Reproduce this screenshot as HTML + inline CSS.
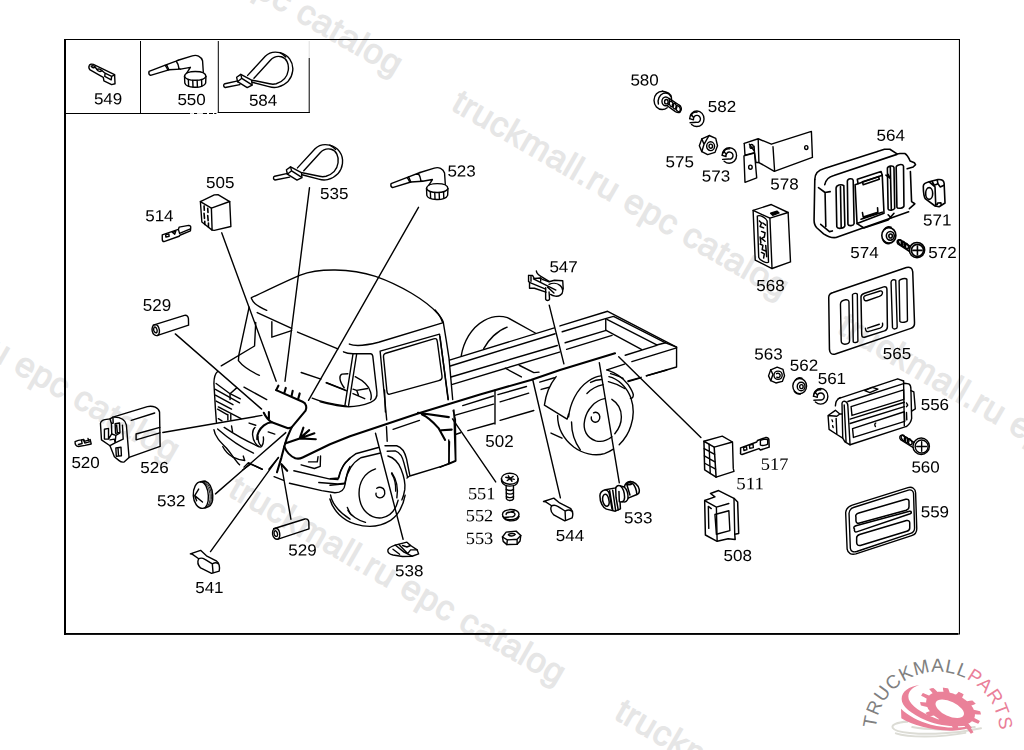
<!DOCTYPE html>
<html><head><meta charset="utf-8"><title>502 wiring harness</title>
<style>
html,body{margin:0;padding:0;background:#fff;}
body{width:1024px;height:750px;overflow:hidden;font-family:"Liberation Sans",sans-serif;}
svg{display:block;position:absolute;left:0;top:0;}
.wm{font-family:"Liberation Sans",sans-serif;font-size:34.5px;letter-spacing:0.73px;fill:#e6e6e6;stroke:#e6e6e6;stroke-width:1.1px;text-rendering:geometricPrecision;}
.lb{font-family:"Liberation Sans",sans-serif;font-size:16px;fill:#000;}
.ls{font-family:"Liberation Serif",serif;font-size:17.3px;fill:#000;}
.lb,.ls{filter:grayscale(1);}
.t{fill:none;stroke:#000;stroke-width:1.4;stroke-linecap:round;stroke-linejoin:round;}
.h{fill:none;stroke:#000;stroke-width:2.1;stroke-linecap:round;stroke-linejoin:round;}
.z path,.z line,.z polyline,.z ellipse,.z circle,.z rect,.z polygon{vector-effect:non-scaling-stroke;}
.w{fill:#fff;}
</style></head><body>
<svg width="1024" height="750" viewBox="0 0 1024 750">
<!-- 00_watermark.svgfrag -->
<g class="wm">
<text transform="translate(450.1,109.1) rotate(30)">truckmall.ru epc catalog</text>
<text transform="translate(836.1,332.1) rotate(30)">truckmall.ru epc catalog</text>
<text transform="translate(227.1,495.1) rotate(30)">truckmall.ru epc catalog</text>
<text transform="translate(64.1,-113.9) rotate(30)">truckmall.ru epc catalog</text>
<text transform="translate(-158.9,272.1) rotate(30)">truckmall.ru epc catalog</text>
<text transform="translate(613.1,718.1) rotate(30)">truckmall.ru epc catalog</text>
</g>

<!-- 10_frame.svgfrag -->
<g fill="#000" stroke="none">
<rect x="64" y="39" width="2" height="596"/>
<rect x="64" y="39" width="896" height="1"/>
<rect x="958.9" y="39" width="1.1" height="595.5"/>
<rect x="64" y="633" width="894.6" height="1.9"/>
<rect x="64" y="113" width="126" height="1"/>
<rect x="194" y="113" width="3.2" height="1"/><rect x="202.8" y="113" width="4.2" height="1"/><rect x="209" y="113" width="4" height="1"/><rect x="214.2" y="113" width="2.2" height="1"/>
<rect x="217.8" y="112" width="92" height="1"/>
<rect x="140" y="41" width="1" height="72"/>
<rect x="217.8" y="41" width="1" height="72"/>
<rect x="308.7" y="58" width="1" height="55"/>
</g>
<rect x="308.7" y="41" width="1" height="17" fill="#ddd"/>
<rect x="190" y="113" width="3.4" height="1" fill="#ddd"/><rect x="197.5" y="113" width="4.7" height="1" fill="#ddd"/>

<!-- 30_truck_a.svgfrag -->
<!-- roof: zoom [200,250] f=3.988 -->
<g class="t z" transform="translate(200 250) scale(0.25075)">
<path d="M205,190 C270,160 340,125 400,100 C470,72 600,72 700,105 C800,140 900,200 950,255 C960,268 965,280 968,290"/>
</g>
<!-- G1: zoom [200,280] f=6.82 -->
<g class="t z" transform="translate(200 280) scale(0.146628)">
<path d="M350,125 C360,150 375,170 455,207"/>
<path d="M390,222 L625,330 M665,355 L940,470"/>
<path d="M490,285 L490,390 L625,345"/>
<path d="M335,185 L265,510 L262,550 C300,600 350,625 405,650"/>
<path d="M380,290 L372,450 L145,585"/>
</g>
<!-- G2: zoom [200,360] f=6.82 -->
<g class="t z" transform="translate(200 360) scale(0.146628)">
<path d="M120,78 C100,95 95,120 95,160 L105,330 L112,425"/>
<path d="M110,160 L205,230 L275,265 M105,200 L270,292 M105,240 L225,305 M110,280 L215,335 M125,320 L280,400"/>
<path d="M205,230 L205,270 M205,230 L250,190"/>
<path d="M120,335 L185,372 M190,372 L190,410 M210,372 L210,410 M125,400 L150,415"/>
<path d="M300,185 L455,270"/>
<path d="M690,85 L825,130 M860,155 L1000,210"/>
<path d="M765,260 C800,275 880,298 1000,315"/>
<path d="M95,475 C100,520 140,560 180,600 C215,640 240,685 270,715"/>
<path d="M120,470 C200,540 290,600 365,635"/>
<path d="M165,460 C240,510 330,560 400,590"/>
<path d="M155,590 C170,620 195,645 220,660 C250,675 280,682 305,685 L295,655"/>
<path d="M215,450 L222,490"/>
<path d="M375,460 C350,480 355,540 380,570 C395,590 410,600 420,590 C432,575 435,550 432,525"/>
<path d="M395,520 C395,550 405,575 415,585"/>
<path d="M335,430 L380,445 M465,490 L510,505"/>
<path d="M290,750 L345,710 L425,745 M470,745 L535,665"/>
<path d="M740,695 L800,695 L805,660 M690,715 L780,740 L820,725 L822,655"/>
</g>
<!-- G3: zoom [200,440] f=6.82 -->
<g class="t z" transform="translate(200 440) scale(0.146628)">
<path d="M640,210 L880,265 L940,270 C950,225 975,160 1023,125"/>
<path d="M610,295 L830,345 L920,360 C960,360 985,340 990,300 C995,260 1005,215 1023,180"/>
<path d="M810,290 L940,300 L985,295"/>
<path d="M505,250 L570,275"/>
<path d="M330,155 L425,200 M330,155 L300,185"/>
<path d="M890,375 C900,430 930,480 1023,540"/>
<path d="M1005,460 L1023,500"/>
</g>

<!-- 31_truck_b.svgfrag -->
<!-- G4: zoom [320,310] f=6.82 cab side -->
<g class="t z" transform="translate(320 310) scale(0.146628)">
<path d="M200,232 C230,245 300,245 400,220 L830,90"/>
<path d="M785,0 C810,30 830,55 840,80 L860,200 L880,330 L905,610"/>
<path d="M455,750 L410,280 L815,165 L875,610"/>
<path d="M470,575 C455,575 458,560 455,540 L433,320 C432,300 440,298 455,293 L775,197 C795,192 797,200 800,215 L832,450 C835,470 825,478 810,482 Z"/>
<path d="M225,300 L170,650 M250,300 L195,650"/>
<path d="M160,285 C180,295 200,298 225,298 L345,298 C355,298 358,305 360,315 L388,560 C392,590 380,615 345,630 C280,655 200,665 140,655 C90,648 40,635 0,625"/>
<path d="M190,435 L150,437 C130,445 128,480 165,530"/>
<path d="M240,455 C290,480 335,520 345,560 C350,580 352,600 345,612"/>
<path d="M45,495 L170,545 M225,540 L250,548 L325,535 M225,570 L305,605 M250,548 L262,580"/>
</g>
<!-- G5: zoom [330,390] f=6.82 door bottom / front wheel arch -->
<g class="t z" transform="translate(330 390) scale(0.146628)">
<path d="M372,0 L378,150 M385,250 L390,350"/>
<path d="M430,268 L610,207"/>
<path d="M810,340 L812,500 M840,140 L855,200 L858,485 M550,585 L810,505 L858,485"/>
<path d="M0,605 L60,600 C70,540 100,480 175,435 L330,392"/>
<path d="M0,650 L100,640 C115,560 145,500 210,462 L345,430"/>
<path d="M375,380 L455,380 C490,390 510,420 522,470 L545,585 L525,600"/>
<path d="M390,418 L445,415 C475,425 495,455 505,500 L528,590"/>
<path d="M395,450 C430,460 465,490 485,540 C505,590 515,640 510,680 C505,710 500,730 490,750"/>
<path d="M420,570 C440,600 450,640 448,690"/>
</g>
<!-- G10: front wheel zoom [200,400] f=3.988 -->
<g class="t z" transform="translate(200 400) scale(0.25075)">
<path d="M518,395 C530,440 570,480 620,495 C670,510 720,505 760,480 C790,460 810,420 818,380"/>
<path d="M590,440 C600,460 630,480 660,488"/>
<path d="M700,275 C655,290 630,330 635,385 C640,440 680,475 725,470 C755,465 780,440 790,400"/>
<path d="M705,352 C715,345 732,348 736,362 C740,378 730,392 715,390 C705,388 700,380 702,372"/>
<path d="M765,290 C785,320 790,360 785,390"/>
</g>

<!-- 32_truck_c.svgfrag -->
<!-- G6: zoom [440,300] f=6.82 bed front / spare wheel -->
<g class="t z" transform="translate(440 300) scale(0.146628)">
<path d="M0,250 L55,680"/>
<path d="M145,380 C160,290 210,190 300,140 C350,112 410,105 460,120 L650,225"/>
<path d="M298,332 C330,270 390,210 458,185"/>
<path d="M65,410 L780,190"/>
<path d="M70,450 L785,230"/>
<path d="M75,525 L800,310"/>
<path d="M85,575 L815,355"/>
<path d="M445,465 L555,525 M540,445 L640,495 L675,492"/>
<path d="M395,645 L590,590 M410,695 L605,635 M155,720 L365,655"/>
<path d="M680,560 L780,530 M690,610 L745,595"/>
</g>
<!-- G7: zoom [560,290] f=6.82 bed rear -->
<g class="t z" transform="translate(560 290) scale(0.146628)">
<path d="M0,245 L325,145 L795,390 L795,525 L590,585"/>
<path d="M15,285 L310,195 L365,180 L720,360 L795,390"/>
<path d="M320,200 L660,375 L720,360"/>
<path d="M312,195 L312,275"/>
<path d="M35,360 L315,275 L555,405"/>
<path d="M45,405 L355,310"/>
<path d="M445,445 L660,378 M490,488 L795,395"/>
<path d="M320,545 L440,505 M465,625 L545,600"/>
<path d="M320,545 C380,565 430,600 465,645 C485,675 498,700 500,715 C500,735 490,740 480,738"/>
<path d="M345,570 C380,580 410,590 430,602 M330,625 C370,635 410,652 440,672"/>
</g>
<!-- G8: zoom [440,380] f=6.82 under bed -->
<g class="t z" transform="translate(440 380) scale(0.146628)">
<path d="M105,240 L365,165 M190,345 L370,295 M110,370 L140,360"/>
<path d="M375,70 L375,300"/>
<path d="M410,275 L640,208"/>
<path d="M95,205 L100,400 L105,550 L0,595 M65,420 L60,570"/>
</g>
<!-- G9: zoom [540,370] f=6.82 rear wheel -->
<g class="t z" transform="translate(540 370) scale(0.146628)">
<path d="M120,310 C120,400 160,470 230,525 C290,570 370,590 440,570 C465,562 485,550 500,540"/>
<path d="M195,320 C205,230 250,130 330,75 C360,55 390,42 415,40"/>
<path d="M470,45 C530,60 590,110 620,190 C640,250 640,320 620,380 C605,430 575,475 540,510"/>
<path d="M215,355 C215,420 235,490 275,545"/>
<path d="M440,195 C380,205 320,265 305,340 C290,410 320,465 380,483 C420,493 460,480 490,455"/>
<path d="M490,200 C530,225 555,270 555,320 C555,365 535,405 510,435"/>
<path d="M365,292 C385,282 405,295 408,318 C410,342 392,360 370,355 C355,350 348,335 350,320"/>
<path d="M320,160 C350,130 390,108 430,100 M345,85 C370,72 395,66 420,65"/>
<path d="M110,45 C70,95 40,160 30,240 L185,335 L195,300"/>
<path d="M75,430 L150,465"/>
<path d="M600,75 L690,50 M725,40 L865,0"/>
</g>
<!-- harness (native coords) -->
<g class="h">
<path d="M276.2,390.1 L302.6,401.8 C306.5,403.5 307,407.5 305.6,410.6 L291.6,427.4 L286.5,439.2 L284.3,446.5 L281.4,457.6 L277,472.3"/>
<path d="M276.2,390.1 L278.4,385.7 M284.3,393 L285.8,387.9 M291.6,395.9 L292.7,390.8 M298.2,398.9 L299.7,393.4"/>
<path d="M291.6,427.4 L288,428.2 L271.8,422.3 C268,420 265.5,416.5 263.8,412.8 M268.9,412 L268.9,418.7"/>
<path d="M271.8,422.3 C266,422.5 261,427 258.7,431.8 C257.3,434.5 257,437 257.2,439.2"/>
<path d="M285,443.6 L299.7,438.4 L315.8,439.2 M299.7,438.4 L314.4,433.3 M299.7,438.4 L309.2,430.1 M299.7,438.4 L303.4,427.7"/>
<path d="M284.3,446.5 C286,451 290,456 295.3,458.2 C298,459 300.5,458.5 302.6,457.5 L330,444.2 L350,436.3 L418,413.5 L480,394.4 L530.9,380 L560,370 L615,353.3"/>
<path d="M281.4,464.2 L287.2,470.8"/>
<path d="M418,412.7 L448.8,417.1 M422,414.5 C427,416.5 434,423 438.5,428.1 L445.1,439.9 M441.4,430.3 L451.7,429.6"/>
</g>
<!-- leaders (native coords) -->
<g class="t">
<path d="M221.7,232.8 L276.2,381.2"/>
<path d="M309.5,187.7 L285,381.2"/>
<path d="M418.5,207.3 L308.5,400.3"/>
<path d="M175.3,333.9 L261.6,409.1"/>
<path d="M162.8,432.5 L261.9,415.4"/>
<path d="M215.5,493.9 L285.8,432.6"/>
<path d="M210.5,551.6 L278.4,457.6"/>
<path d="M281.4,465 L290.9,519.2"/>
<path d="M375.5,433.3 L403.1,539.2"/>
<path d="M452.5,418.9 L495.7,481.9"/>
<path d="M532.8,380 L560.4,497.9"/>
<path d="M599.3,362.6 L619.3,482.8"/>
<path d="M618.7,356.7 L700.9,437.6"/>
<path d="M549.2,305.1 L563.9,363.8"/>
</g>

<!-- 40_parts_left.svgfrag -->
<defs>
<!-- connector 550 in zoom [64,38] coords -->
<g id="conn" class="z">
<path d="M580,228 L700,182 L715,217 L590,255 C580,250 577,238 580,228 Z"/>
<path d="M700,182 L778,152 M715,217 L795,212 M765,157 C775,170 783,195 785,212 M690,187 C700,200 705,210 708,218"/>
<path d="M778,152 L875,122 C905,112 935,125 945,155 L950,232"/>
<path d="M795,212 L862,200 L838,238"/>
<path d="M822,262 C822,238 860,228 895,228 C935,228 968,240 968,262 L966,308 C960,328 925,338 890,336 C855,334 828,325 824,308 Z"/>
<path d="M822,262 C830,280 860,288 895,288 C930,288 960,280 968,262"/>
<path d="M848,283 L850,328 M878,289 L880,335 M908,289 L910,335 M938,283 L940,328"/>
</g>
<!-- cable tie 584 in zoom [200,38] coords -->
<g id="tie" class="z">
<path d="M258,292 L170,312 C158,318 158,332 172,338 L272,318"/>
<path d="M250,268 L278,248 L352,288 L356,322 L322,338 L256,298 Z"/>
<path d="M278,248 L285,275 L352,318 M285,275 L256,298"/>
<path d="M325,255 L445,125 C470,100 510,92 545,100 C600,112 640,165 632,225 C625,280 585,320 530,335 C510,340 490,338 470,332 L356,302"/>
<path d="M368,275 L480,152 C500,130 530,122 555,128 C590,138 608,175 602,220 C596,262 565,298 520,312 C505,316 490,316 475,312 L358,288"/>
<path d="M545,100 C560,108 575,118 585,130"/>
</g>
</defs>
<g class="t z" transform="translate(64 38) scale(0.146628)">
<use href="#conn"/>
<!-- 549 terminal -->
<path d="M172,188 C175,178 190,176 200,180 L345,250 L348,312 L325,318 L272,292 L268,268 L178,218 C170,210 168,198 172,188 Z"/>
<path d="M185,192 C195,186 208,190 212,198 C205,206 192,204 185,192 Z M225,215 C235,208 252,212 258,222 C250,232 232,230 225,215 Z"/>
<path d="M280,240 L325,262 L322,285 L278,262 Z M325,262 L345,252 M212,198 L225,215 M258,222 L280,240"/>
</g>
<g class="t z" transform="translate(306 150.2) scale(0.146628)"><use href="#conn"/></g>
<g class="t z" transform="translate(200 38) scale(0.146628)"><use href="#tie"/></g>
<g class="t z" transform="translate(249.8 130.5) scale(0.146628)"><use href="#tie"/></g>
<!-- 505 / 514 zoom [130,170] -->
<g class="t z" transform="translate(130 170) scale(0.146628)">
<path d="M480,215 L555,260 L560,410 L490,355 Z"/>
<path d="M480,215 L575,170 L600,168 L680,215 L555,260"/>
<path d="M680,215 L688,385 L575,412 L560,410"/>
<path d="M505,245 L507,275 M505,295 L508,330 M510,350 L510,372 M530,262 L532,290 M530,310 L533,345 M535,362 L535,388" stroke-width="1.6"/>
<path d="M220,442 L330,405 L335,390 L400,378 C412,378 416,385 414,395 L412,415 L340,445 L335,452 L232,488 C222,488 220,478 220,470 Z"/>
<path d="M243,442 L265,436 L267,452 L245,458 Z M288,425 L312,418 L305,438 Z M330,405 L338,432 L412,402"/>
</g>
<!-- 529 upper: zoom [66,290] ; lower same shape shifted -->
<defs><g id="tube" class="z">
<path d="M595,240 L808,173 C825,170 833,180 835,195 L836,240 L625,310"/>
<path d="M608,236 C590,238 585,260 588,280 C592,302 610,315 625,310 C640,302 640,275 632,255 C627,242 618,236 608,236 Z"/>
<path d="M606,252 C597,255 596,268 600,280 C605,292 615,295 620,288 C625,278 620,258 606,252 Z"/>
</g></defs>
<g class="t z" transform="translate(66 290) scale(0.146628)"><use href="#tube"/></g>
<g class="t z" transform="translate(186.4 493.6) scale(0.146628)"><use href="#tube"/></g>
<!-- 526 / 520 zoom [66,390] -->
<g class="t z" transform="translate(66 390) scale(0.146628)">
<path d="M320,185 L555,113 C595,105 630,120 638,150 L642,385 L430,460 L398,490 C385,495 370,488 360,480 L330,455 L300,380 L242,340 L235,228 C238,212 250,205 265,202 L300,197 Z"/>
<path d="M330,185 C375,185 405,205 412,240 L430,460"/>
<path d="M300,197 L310,230 L322,225 L320,185 M310,230 L312,300 L290,335 L262,335 L262,268 L290,262 L290,335"/>
<path d="M335,230 L365,225 L368,290 L338,295 Z M345,240 L350,285"/>
<path d="M340,395 L375,390 L378,448 L343,452 Z M355,400 L358,445"/>
<path d="M312,300 L340,310 L365,295 M300,340 L330,335 L335,360 L300,380 M340,310 L335,360 L390,335 L385,240"/>
<path d="M445,207 L605,157"/>
<path d="M640,255 L478,300 L478,340 L640,292"/>
<path d="M62,352 C75,345 95,340 105,340 L120,338 L125,350 L165,338 L172,368 L130,378 L85,385 C70,385 60,370 62,352 Z"/>
<path d="M105,340 L110,365 L85,372 M120,338 L128,362 L165,352 M150,330 L155,345"/>
</g>
<!-- 532 / 541 zoom [150,470] -->
<g class="t z" transform="translate(150 470) scale(0.146628)">
<path d="M345,80 C315,82 292,125 295,175 C298,225 325,262 360,262 C385,260 400,225 398,175 C395,125 375,80 345,80 Z"/>
<path d="M345,80 L375,75 C405,85 425,125 428,175 C430,215 420,240 400,250 L375,260"/>
<path stroke-width="0.9" d="M360,78 C388,90 408,130 410,178 C412,215 402,240 388,252"/>
<path stroke-width="0.9" d="M368,77 C398,90 417,130 419,178 C421,212 412,238 396,250"/>
<path d="M332,130 L305,175 L318,210 M305,175 L358,218"/>
<path d="M275,572 L345,548 L385,585 L455,622 C472,635 478,655 472,690 L420,705 L345,668 C328,650 322,625 332,605 L290,575 Z"/>
<path d="M332,605 C345,598 360,600 375,610 L425,640 L430,700 M425,640 C440,632 455,630 465,640"/>
</g>
<!-- 538 zoom [360,470] -->
<g class="t z" transform="translate(360 470) scale(0.146628)">
<path d="M190,545 C195,530 215,520 240,512 L320,492 L345,515 L390,545 L400,572 L355,588 L290,590 L225,580 C200,575 188,560 190,545 Z"/>
<path d="M240,512 L300,560 L355,588 M265,508 L325,570 L345,545 L390,545 M290,515 L320,525 L345,515 M300,560 L325,570 M225,540 L270,575"/>
</g>

<!-- 41_parts_mid.svgfrag -->
<!-- 551/552/553/544 zoom [490,460] -->
<g class="t z" transform="translate(490 460) scale(0.146628)">
<path d="M78,128 C78,105 105,90 135,90 C168,90 192,105 192,128 C192,150 168,165 135,165 C105,165 78,150 78,128 Z"/>
<path d="M78,128 L80,148 C90,170 115,178 135,178 C160,178 185,168 190,148 L192,128"/>
<path d="M108,118 L165,132 M118,140 L158,112 M125,108 L150,145"/>
<path d="M110,178 L112,265 C118,280 152,280 160,265 L160,178"/>
<path d="M111,200 C125,208 148,208 160,200 M111,225 C125,233 148,233 160,225 M112,250 C125,258 148,258 160,250"/>
<path d="M85,372 C85,352 110,338 142,338 C175,338 198,352 198,370 C198,392 172,408 140,408 C108,408 85,392 85,372 Z"/>
<path d="M88,385 C95,400 115,415 142,415 C170,415 192,402 198,385"/>
<path d="M110,372 C110,362 125,355 142,355 C160,355 172,362 170,372 C168,382 155,388 140,388 L95,392 M120,360 L165,348"/>
<path d="M85,525 L110,492 L178,485 L210,515 L205,552 L185,575 L115,577 L90,555 Z"/>
<path d="M85,525 L118,545 L185,540 L210,515 M118,545 L115,577 M185,540 L185,575"/>
<path d="M125,510 C130,500 165,497 172,508 C165,520 135,522 125,510 Z"/>
<path d="M365,283 L435,260 L475,293 L548,330 C565,345 568,370 560,395 L510,415 L435,375 C415,355 410,332 420,312 L380,286 Z"/>
<path d="M420,312 C435,305 450,308 465,318 L512,348 L515,412 M512,348 C528,340 545,338 555,348"/>
</g>
<!-- 533 zoom [590,465] f=13.64 -->
<g class="t z" style="stroke-width:1.5" transform="translate(590 465) scale(0.0733)">
<path d="M135,420 C135,380 165,350 210,338 L350,312 C362,285 390,272 415,285 L468,300 C478,258 510,228 548,225 C600,225 655,265 670,330 C678,370 665,395 640,402 L520,452 C512,490 482,515 442,500 L410,505 L415,598 L345,630 L225,602 C175,585 135,510 135,420 Z"/>
<path d="M205,400 C175,405 165,450 175,495 C185,540 215,570 240,560 C262,548 265,505 255,465 C245,425 228,398 205,400 Z"/>
<path d="M210,338 C240,345 262,375 268,415 L300,600 M268,350 L310,610 M310,345 L350,620 M350,312 L355,440 L385,612 M395,360 L400,500"/>
<path d="M415,285 C445,310 470,370 472,440 C472,470 462,492 442,500 M468,300 C500,330 520,390 520,452"/>
<path d="M500,260 C515,245 550,240 580,250 C560,268 525,275 500,260 Z M580,250 C610,280 632,330 640,402 M548,225 L500,260 L545,410"/>
</g>
<!-- 547 zoom [510,250] f=10.24 -->
<g class="t z" style="stroke-width:1.4" transform="translate(510 250) scale(0.09766)">
<path d="M190,260 L230,260 L250,292 L312,286 L330,300 L400,325 L455,310 L540,315 L545,400"/>
<path d="M190,260 L190,325 L200,330 L200,392 L250,392 L368,432"/>
<path d="M205,335 L365,400 M240,295 L470,410 M215,262 L215,320 M312,286 L315,318"/>
<path d="M400,352 C430,338 480,335 515,365 C550,395 548,440 515,462 C485,482 440,472 415,455"/>
<path d="M365,385 L365,505 C372,522 398,522 405,505 L400,430"/>
<path d="M270,215 C272,235 295,258 320,272 L400,322"/>
<path d="M385,380 L450,440"/>
</g>

<!-- 42_parts_right.svgfrag -->
<!-- 580/582/575 zoom [620,60] -->
<defs>
<g id="lockw" class="z">
<path d="M-48,0 C-48,-30 -25,-52 2,-52 C30,-52 50,-28 50,2 C50,32 28,54 0,54 C-12,54 -25,48 -35,40"/>
<path d="M-40,-18 C-32,-38 -15,-46 2,-44 M-22,8 C-25,-10 -12,-24 5,-22 C20,-20 28,-5 25,8 C22,20 10,28 -2,25 L-45,28 M-22,8 L-48,0 M-38,-30 L-20,-5"/>
</g>
<g id="nut" class="z">
<path d="M-62,5 L-45,-42 L5,-65 L50,-45 L62,5 L45,50 L-5,65 L-45,45 Z"/>
<path d="M-45,-42 L-30,-5 L-45,45 M-30,-5 L-10,-40 M-10,-40 L5,-65"/>
<ellipse cx="15" cy="8" rx="27" ry="30"/><ellipse cx="16" cy="8" rx="12" ry="14"/>
</g>
<g id="flatw" class="z">
<ellipse cx="0" cy="0" rx="48" ry="53"/><ellipse cx="10" cy="3" rx="27" ry="30"/><ellipse cx="12" cy="4" rx="12" ry="14"/>
<path d="M-30,-42 C-20,-58 0,-62 15,-55 M-38,35 C-28,50 -10,58 5,55"/>
</g>
<g id="screw" class="z">
<circle cx="0" cy="0" r="52"/><circle cx="3" cy="2" r="41"/>
<path d="M-28,2 L34,2 M3,-28 L3,32"/>
<path d="M-45,-25 L-120,-70 C-135,-72 -140,-55 -130,-42 L-52,8"/>
<ellipse cx="-112" cy="-52" rx="12" ry="20" transform="rotate(-30 -112 -52)"/><ellipse cx="-92" cy="-40" rx="12" ry="20" transform="rotate(-30 -92 -40)"/><ellipse cx="-72" cy="-28" rx="12" ry="20" transform="rotate(-30 -72 -28)"/>
</g>
</defs>
<g class="t z" transform="translate(620 60) scale(0.146628)">
<path d="M290,213 C258,213 232,240 232,275 C232,312 258,338 288,338 C300,338 312,334 322,326"/>
<path d="M290,213 L312,218 C340,225 355,250 352,280 M262,300 C255,270 268,238 295,228 C315,222 338,232 348,252"/>
<ellipse cx="312" cy="282" rx="26" ry="30"/><ellipse cx="316" cy="284" rx="12" ry="15"/>
<path d="M335,262 L400,305 C420,315 425,340 410,355 C400,362 388,358 378,352 L322,312"/>
<ellipse cx="350" cy="300" rx="13" ry="20" transform="rotate(-25 350 300)"/><ellipse cx="372" cy="315" rx="13" ry="20" transform="rotate(-25 372 315)"/><ellipse cx="396" cy="332" rx="14" ry="21" transform="rotate(-25 396 332)"/>
<use href="#lockw" transform="translate(523 400)"/>
<use href="#nut" transform="translate(603 580)"/>
<use href="#lockw" transform="translate(745 650)"/>
</g>
<!-- 578 zoom [690,120] -->
<g class="t z" transform="translate(690 120) scale(0.146628)">
<path d="M370,160 L465,128 L555,165 L828,78 L835,255 L575,350 L470,290 L465,128"/>
<path d="M566,182 L577,348"/>
<path d="M370,160 L375,240 L440,222 L437,178 M405,165 L437,210 M440,222 L450,290 L470,290"/>
<path d="M368,245 L440,225 L455,395 L375,425 Z"/>
<ellipse cx="420" cy="180" rx="11" ry="13"/><ellipse cx="412" cy="322" rx="12" ry="14"/><ellipse cx="793" cy="188" rx="11" ry="13"/>
</g>
<!-- 568 zoom [730,195] f=7.14 -->
<g class="t z" transform="translate(730 195) scale(0.140056)">
<path d="M165,110 L285,165 L300,525 L180,465 Z"/>
<path d="M165,110 L295,68 L415,125 L285,165"/>
<path d="M415,125 L432,478 L300,525"/>
<path d="M290,130 L335,115 L350,128 L305,145 Z" fill="#000"/>
<path d="M195,150 C215,140 260,165 265,185 L275,480 C260,490 210,465 205,445 Z"/>
<path d="M210,185 L225,200 L215,225 L240,235 M235,200 L255,215 M225,260 L250,270 L245,300 L225,310 L250,330 M215,350 L235,360 L230,390 L255,400 M225,410 L245,420 L240,450 M255,360 L262,440 M215,300 L220,340" stroke-width="1.5"/>
</g>
<!-- 564 / 571 zoom [806,140] -->
<g class="t z" style="stroke-width:1.6" transform="translate(806 140) scale(0.146628)">
<path d="M60,270 C60,230 85,205 125,195 L535,63 L572,63 L621,95 L641,92 L674,92 C690,100 700,120 710,143 L739,155 L747,168 L731,184 L690,196"/>
<path d="M712,215 L720,420 L742,435 L705,468 M700,490 L205,665 C170,670 150,660 120,640 L75,600 C60,585 55,570 55,545 L60,270"/>
<path d="M128,305 C135,268 160,250 190,242 L620,98 M130,358 L135,590 M100,575 L160,625 L180,620 M85,325 L130,358 L165,352"/>
<path d="M205,330 C205,308 240,298 258,312 L265,585 C262,602 215,610 210,592 Z M235,318 L240,600"/>
<path d="M282,280 C285,262 318,258 322,275 L328,570 C325,585 290,590 286,575 Z"/>
<path d="M335,305 L520,240 L532,500 L348,570 Z"/>
<path d="M350,268 L512,215 L520,240 M350,268 L355,298 M385,285 L495,250 L500,268 L390,305 Z"/>
<path d="M385,495 L390,525 L490,492 L488,462 M375,540 L520,492 M348,570 L395,600 L560,545 L600,500 M560,510 L580,530 M545,240 L575,262 L560,235"/>
<path d="M555,195 C555,178 595,170 600,188 L605,465 C600,478 565,485 560,470 Z M575,185 L582,475"/>
<path d="M615,185 C615,168 660,160 665,178 L668,450 C665,465 625,472 620,458 Z"/>
<path d="M800,315 C800,298 820,290 840,285 L900,270 C925,268 940,278 942,295 L948,430 L908,455 L880,450 L815,402 C805,390 800,350 800,315 Z"/>
<ellipse cx="840" cy="365" rx="24" ry="40"/>
<path d="M840,285 L880,320 L885,450 M860,283 L875,308 L900,298 L895,275 M900,298 L915,320 L942,308 M895,440 L898,430 L920,428 L922,440"/>
<!-- 574 washer + 572 screw (zoom[806,220] shifted by 80px = 545.6) -->
<use href="#flatw" transform="translate(565 650.6)"/>
<use href="#screw" transform="translate(757 750.6)"/>
</g>
<!-- 565 zoom [806,258] -->
<g class="t z" transform="translate(806 258) scale(0.146628)">
<path d="M155,270 C155,250 165,240 185,235 L685,65 C710,58 725,70 728,95 L740,440 C742,465 730,475 715,480 L200,655 C175,660 162,650 160,625 Z" stroke-width="1.5"/>
<path d="M235,315 C235,295 250,288 270,285 C285,283 293,290 293,300 L297,565 C297,580 285,588 265,588 C248,588 240,580 240,565 Z"/>
<path d="M317,250 C325,240 345,238 350,246 L354,568 C350,578 328,580 322,572 Z"/>
<path d="M375,265 C375,250 385,245 400,240 L530,197 C545,193 552,200 552,215 L555,470 C555,485 548,492 535,497 L400,540 C385,543 380,535 380,520 Z" stroke-width="1.5"/>
<path d="M395,278 C390,262 400,258 410,255 L505,225 C518,222 525,232 520,245 C518,255 510,258 500,262 L420,290 C405,295 398,290 395,278 Z"/>
<path d="M405,478 C405,500 415,505 430,500 L505,478 C520,472 525,460 522,445 M420,478 L500,452"/>
<path d="M580,165 C580,150 600,143 612,152 L622,470 C622,485 595,490 590,475 Z"/>
<path d="M635,155 C640,142 680,135 688,145 L692,425 C692,437 650,445 640,432 Z"/>
</g>
<!-- 563/562/561 zoom [756,350] -->
<g class="t z" transform="translate(756 350) scale(0.146628)">
<g transform="translate(140 172) scale(0.88)">
<path d="M-62,5 L-45,-42 L5,-62 L50,-45 L62,5 L45,48 L-5,60 L-45,42 Z"/>
<path d="M-45,-42 L-28,-5 L-45,42"/>
<ellipse cx="12" cy="0" rx="32" ry="32"/><path d="M0,-12 C15,-20 30,-10 28,5 C26,18 12,22 2,15"/>
</g>
<g transform="translate(298 246) scale(0.98)"><use href="#flatw"/></g>
<use href="#lockw" transform="translate(440 315)"/>
</g>
<!-- 556 / 560 zoom [820,370] -->
<g class="t z" transform="translate(820 370) scale(0.146628)">
<path d="M125,195 L530,60 L570,75 M190,215 L565,95"/>
<path d="M105,245 C105,220 118,198 138,188"/>
<path d="M150,228 C152,215 165,210 175,215 C185,220 190,230 190,245 L205,510 L170,490 L155,465 Z M165,238 L178,495"/>
<path d="M55,310 L105,275 L135,300 L115,315 L55,310 L62,405 L115,440 L110,330 M115,440 L155,465 M135,300 L150,300" />
<path d="M82,340 L86,352 M86,380 L90,392"/>
<path d="M212,250 L570,135 L572,200 L218,310 Z"/>
<path d="M205,335 L575,220 M205,365 L575,250"/>
<path d="M222,400 L575,285 L578,350 L228,460 Z"/>
<path d="M205,510 L590,385"/>
<path d="M570,75 L575,380 M575,90 L605,95 C615,100 620,115 620,130 L625,330 C622,350 610,370 590,385"/>
<path d="M620,140 L640,150 L650,265 L625,280 M590,225 L598,240 L590,250 M590,290 L592,340"/>
<path d="M305,140 L355,118 L395,130 L340,155 Z"/>
<path d="M380,362 C372,365 372,378 378,385"/>
<g transform="translate(690 520) scale(1.08)"><use href="#screw"/></g>
</g>
<!-- 559 zoom [820,470] -->
<g class="t z" transform="translate(820 470) scale(0.146628)">
<path d="M175,290 C178,262 195,248 220,240 L600,120 C630,112 650,128 652,155 L660,400 C660,425 648,440 625,448 L245,572 C215,580 190,570 185,540 Z"/>
<path d="M198,295 C200,272 213,260 233,254 L603,137 C623,132 636,142 638,160 L645,395 C645,413 636,426 618,432 L250,556 C225,563 210,553 207,535 Z"/>
<path d="M245,320 C240,305 250,298 265,293 L585,200 C600,196 607,203 607,215 L607,250 C607,265 600,270 588,274 L270,362 C255,366 245,360 245,345 Z" stroke-width="1.5"/>
<path d="M235,402 C225,395 232,385 245,380 L610,282 C625,280 628,292 615,298 L250,422 C240,425 232,418 235,402 Z" stroke-width="1.5"/>
<path d="M250,465 C248,450 258,445 270,440 L590,345 C605,342 612,350 612,362 L612,395 C612,408 605,414 592,418 L275,515 C260,518 250,510 250,495 Z" stroke-width="1.5"/>
</g>
<!-- 511 / 517 zoom [690,420] -->
<g class="t z" transform="translate(690 420) scale(0.146628)">
<path d="M95,145 L165,185 L178,390 L100,340 Z" stroke-width="1.5"/>
<path d="M95,145 L220,110 L290,150 L165,185 M290,150 L295,330 L300,350 L178,390"/>
<path d="M97,195 L168,235 M98,245 L170,285 M100,295 L175,335 M130,165 L138,365"/>
<path d="M345,190 L455,150 L460,140 L515,120 C530,118 538,125 538,135 L540,185 L480,205 L470,195 L355,235 C345,235 343,228 345,225 Z" stroke-width="1.5"/>
<path d="M365,188 L385,182 L388,202 L368,208 Z M405,172 L430,165 L432,188 L408,194 Z M480,140 C490,132 520,128 530,135 L530,165 C520,172 490,178 480,170 Z"/>
</g>
<!-- 508 zoom [690,480] -->
<g class="t z" transform="translate(690 480) scale(0.146628)">
<path d="M100,140 L170,115 L140,92 L195,72 L300,125 L325,150 L332,365 L305,370 L308,405 L260,400 L185,418 L105,375 Z" stroke-width="1.5"/>
<path d="M100,140 L180,185 L265,160 M180,185 L185,415 M300,125 L305,370"/>
<path d="M170,235 L265,210 L272,345 L180,370 Z"/>
<path d="M125,180 L128,330 M125,180 L145,195"/>
</g>

<!-- 80_labels.svgfrag -->
<g class="lb">
<text transform="rotate(0.05 93.9 104.2)" x="93.9" y="104.2" textLength="28.4" lengthAdjust="spacingAndGlyphs">549</text>
<text transform="rotate(0.05 177.4 105.0)" x="177.4" y="105.0" textLength="28.4" lengthAdjust="spacingAndGlyphs">550</text>
<text transform="rotate(0.05 248.9 105.8)" x="248.9" y="105.8" textLength="28.4" lengthAdjust="spacingAndGlyphs">584</text>
<text transform="rotate(0.05 206.0 187.9)" x="206.0" y="187.9" textLength="28.4" lengthAdjust="spacingAndGlyphs">505</text>
<text transform="rotate(0.05 145.2 221.2)" x="145.2" y="221.2" textLength="28.4" lengthAdjust="spacingAndGlyphs">514</text>
<text transform="rotate(0.05 320.0 199.0)" x="320.0" y="199.0" textLength="28.4" lengthAdjust="spacingAndGlyphs">535</text>
<text transform="rotate(0.05 447.4 176.5)" x="447.4" y="176.5" textLength="28.4" lengthAdjust="spacingAndGlyphs">523</text>
<text transform="rotate(0.05 142.8 311.0)" x="142.8" y="311.0" textLength="28.4" lengthAdjust="spacingAndGlyphs">529</text>
<text transform="rotate(0.05 71.4 468.0)" x="71.4" y="468.0" textLength="28.4" lengthAdjust="spacingAndGlyphs">520</text>
<text transform="rotate(0.05 140.3 473.0)" x="140.3" y="473.0" textLength="28.4" lengthAdjust="spacingAndGlyphs">526</text>
<text transform="rotate(0.05 157.1 506.2)" x="157.1" y="506.2" textLength="28.4" lengthAdjust="spacingAndGlyphs">532</text>
<text transform="rotate(0.05 195.2 593.1)" x="195.2" y="593.1" textLength="28.4" lengthAdjust="spacingAndGlyphs">541</text>
<text transform="rotate(0.05 288.3 555.4)" x="288.3" y="555.4" textLength="28.4" lengthAdjust="spacingAndGlyphs">529</text>
<text transform="rotate(0.05 395.0 576.3)" x="395.0" y="576.3" textLength="28.4" lengthAdjust="spacingAndGlyphs">538</text>
<text transform="rotate(0.05 485.3 446.8)" x="485.3" y="446.8" textLength="28.4" lengthAdjust="spacingAndGlyphs">502</text>
<text transform="rotate(0.05 555.8 541.0)" x="555.8" y="541.0" textLength="28.4" lengthAdjust="spacingAndGlyphs">544</text>
<text transform="rotate(0.05 624.1 523.2)" x="624.1" y="523.2" textLength="28.4" lengthAdjust="spacingAndGlyphs">533</text>
<text transform="rotate(0.05 549.4 272.3)" x="549.4" y="272.3" textLength="28.4" lengthAdjust="spacingAndGlyphs">547</text>
<text transform="rotate(0.05 630.4 85.5)" x="630.4" y="85.5" textLength="28.4" lengthAdjust="spacingAndGlyphs">580</text>
<text transform="rotate(0.05 707.8 111.9)" x="707.8" y="111.9" textLength="28.4" lengthAdjust="spacingAndGlyphs">582</text>
<text transform="rotate(0.05 665.5 167.3)" x="665.5" y="167.3" textLength="28.4" lengthAdjust="spacingAndGlyphs">575</text>
<text transform="rotate(0.05 701.8 181.5)" x="701.8" y="181.5" textLength="28.4" lengthAdjust="spacingAndGlyphs">573</text>
<text transform="rotate(0.05 770.3 189.6)" x="770.3" y="189.6" textLength="28.4" lengthAdjust="spacingAndGlyphs">578</text>
<text transform="rotate(0.05 876.5 140.7)" x="876.5" y="140.7" textLength="28.4" lengthAdjust="spacingAndGlyphs">564</text>
<text transform="rotate(0.05 923.0 225.4)" x="923.0" y="225.4" textLength="28.4" lengthAdjust="spacingAndGlyphs">571</text>
<text transform="rotate(0.05 850.3 258.0)" x="850.3" y="258.0" textLength="28.4" lengthAdjust="spacingAndGlyphs">574</text>
<text transform="rotate(0.05 928.3 258.0)" x="928.3" y="258.0" textLength="28.4" lengthAdjust="spacingAndGlyphs">572</text>
<text transform="rotate(0.05 756.3 290.9)" x="756.3" y="290.9" textLength="28.4" lengthAdjust="spacingAndGlyphs">568</text>
<text transform="rotate(0.05 882.8 359.0)" x="882.8" y="359.0" textLength="28.4" lengthAdjust="spacingAndGlyphs">565</text>
<text transform="rotate(0.05 754.3 359.6)" x="754.3" y="359.6" textLength="28.4" lengthAdjust="spacingAndGlyphs">563</text>
<text transform="rotate(0.05 789.8 370.8)" x="789.8" y="370.8" textLength="28.4" lengthAdjust="spacingAndGlyphs">562</text>
<text transform="rotate(0.05 817.7 384.0)" x="817.7" y="384.0" textLength="28.4" lengthAdjust="spacingAndGlyphs">561</text>
<text transform="rotate(0.05 920.7 409.9)" x="920.7" y="409.9" textLength="28.4" lengthAdjust="spacingAndGlyphs">556</text>
<text transform="rotate(0.05 911.4 472.5)" x="911.4" y="472.5" textLength="28.4" lengthAdjust="spacingAndGlyphs">560</text>
<text transform="rotate(0.05 920.7 517.2)" x="920.7" y="517.2" textLength="28.4" lengthAdjust="spacingAndGlyphs">559</text>
<text transform="rotate(0.05 723.5 561.0)" x="723.5" y="561.0" textLength="28.4" lengthAdjust="spacingAndGlyphs">508</text>
</g>
<g class="ls">
<text transform="rotate(0.05 467.9 499.2)" x="467.9" y="499.2" textLength="27.6" lengthAdjust="spacingAndGlyphs">551</text>
<text transform="rotate(0.05 465.7 521.2)" x="465.7" y="521.2" textLength="27.6" lengthAdjust="spacingAndGlyphs">552</text>
<text transform="rotate(0.05 465.7 543.9)" x="465.7" y="543.9" textLength="27.6" lengthAdjust="spacingAndGlyphs">553</text>
<text transform="rotate(0.05 760.8 469.7)" x="760.8" y="469.7" textLength="27.6" lengthAdjust="spacingAndGlyphs">517</text>
<text transform="rotate(0.05 736.3 489.2)" x="736.3" y="489.2" textLength="27.6" lengthAdjust="spacingAndGlyphs">511</text>
</g>

<!-- 90_logo.svgfrag -->
<g>
<defs><path id="arc" d="M 875.66 728.36 A 62.2 62.2 0 0 1 999.63 729.44"/></defs>
<text font-family="Liberation Sans, sans-serif" font-size="18.8" textLength="185.6" lengthAdjust="spacing"><textPath href="#arc" textLength="185.6" lengthAdjust="spacing"><tspan fill="#808080">TRUCKMALL</tspan><tspan fill="#ea8099">PARTS</tspan></textPath></text>
</g>
<!--gear-->
<g transform="translate(856 656) scale(0.15625)">
<g fill="none" stroke="#dcdcd5" stroke-width="13" stroke-linecap="round">
<path d="M330,420 C260,425 225,440 235,460 C250,490 400,505 560,495 C650,490 740,475 800,462"/>
<path d="M255,495 C330,520 520,525 700,492"/>
<path d="M360,455 C440,470 600,480 760,455"/>
</g>
<g fill="#ea8199">
<path d="M757,396 L776,407 L793,416 L792,419 L790,421 L789,423 L788,425 L786,428 L785,430 L783,432 L781,434 L762,426 L743,417 L741,418 L739,420 L738,421 L736,423 L734,424 L732,425 L730,426 L728,428 L726,429 L724,430 L721,431 L719,432 L731,446 L742,459 L738,460 L735,461 L732,462 L729,463 L726,463 L722,464 L719,465 L715,466 L702,454 L688,440 L685,441 L682,441 L679,441 L676,442 L673,442 L670,442 L666,442 L663,442 L660,442 L657,442 L654,442 L650,442 L653,455 L654,468 L649,467 L645,467 L641,466 L637,465 L633,465 L628,464 L624,463 L620,462 L615,449 L610,435 L607,435 L603,434 L600,433 L597,432 L593,431 L590,430 L586,429 L583,428 L580,426 L576,425 L573,424 L570,423 L561,432 L553,441 L548,439 L544,437 L540,435 L536,433 L532,431 L528,429 L525,427 L521,425 L525,415 L531,404 L528,402 L526,400 L523,398 L520,396 L517,394 L514,392 L511,390 L509,388 L506,386 L503,384 L501,382 L498,380 L482,384 L466,386 L463,383 L460,381 L457,378 L454,375 L452,372 L449,369 L446,367 L444,364 L457,358 L472,353 L471,351 L469,349 L467,347 L466,344 L464,342 L463,340 L461,337 L460,335 L459,333 L458,330 L457,328 L456,326 L435,322 L416,317 L415,315 L414,312 L413,309 L412,306 L412,303 L411,300 L411,297 L410,295 L429,296 L449,298 L449,296 L449,294 L449,292 L449,290 L449,288 L450,286 L450,283 L450,281 L451,279 L452,277 L452,275 L453,274 L434,263 L417,254 L418,251 L420,249 L421,247 L422,245 L424,242 L425,240 L427,238 L429,236 L448,244 L467,253 L469,252 L471,250 L472,249 L474,247 L476,246 L478,245 L480,244 L482,242 L484,241 L486,240 L489,239 L491,238 L479,224 L468,211 L472,210 L475,209 L478,208 L481,207 L484,207 L488,206 L491,205 L495,204 L508,216 L522,230 L525,229 L528,229 L531,229 L534,228 L537,228 L540,228 L544,228 L547,228 L550,228 L553,228 L556,228 L560,228 L557,215 L556,202 L561,203 L565,203 L569,204 L573,205 L577,205 L582,206 L586,207 L590,208 L595,221 L600,235 L603,235 L607,236 L610,237 L613,238 L617,239 L620,240 L624,241 L627,242 L630,244 L634,245 L637,246 L640,247 L649,238 L657,229 L662,231 L666,233 L670,235 L674,237 L678,239 L682,241 L685,243 L689,245 L685,255 L679,266 L682,268 L684,270 L687,272 L690,274 L693,276 L696,278 L699,280 L701,282 L704,284 L707,286 L709,288 L712,290 L728,286 L744,284 L747,287 L750,289 L753,292 L756,295 L758,298 L761,301 L764,303 L766,306 L753,312 L738,317 L739,319 L741,321 L743,323 L744,326 L746,328 L747,330 L749,333 L750,335 L751,337 L752,340 L753,342 L754,344 L775,348 L794,353 L795,355 L796,358 L797,361 L798,364 L798,367 L799,370 L799,373 L800,375 L781,374 L761,372 L761,374 L761,376 L761,378 L761,380 L761,382 L760,384 L760,387 L760,389 L759,391 L758,393 L758,395 Z"/>
<ellipse cx="600" cy="338" rx="98" ry="47" transform="rotate(25 600 338)" fill="#fff"/>
<path d="M405,185 C340,195 292,225 292,275 C292,320 350,370 450,412 C540,448 640,455 715,445 L700,432 C620,432 540,415 470,382 C390,345 335,300 335,260 C335,225 360,200 405,185 Z"/>
<path d="M288,338 L290,398 C360,440 480,475 600,478 C650,478 690,470 715,462 L700,452 C640,462 560,460 480,440 C400,420 330,380 288,338 Z"/>
<path d="M690,440 L735,498 L752,488 L722,440 Z"/>
</g>
</g>

</svg>
</body></html>
